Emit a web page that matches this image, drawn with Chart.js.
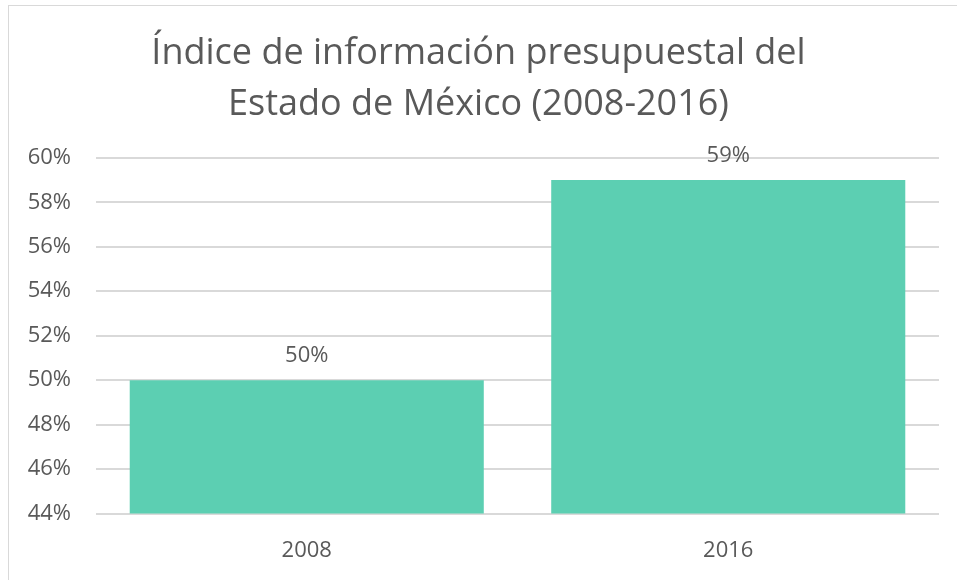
<!DOCTYPE html>
<html>
<head>
<meta charset="utf-8">
<script src="https://cdn.jsdelivr.net/npm/chart.js@4"></script>
<style>
    html, body { margin: 0; padding: 0; background: #fff; overflow: hidden; }
    #frame {
        position: absolute; left: 8px; top: 5px; width: 1000px; height: 700px;
        border-left: 1px solid #d9d9d9; border-top: 1px solid #d9d9d9;
    }
    #wrap { position: absolute; left: 0; top: 0; width: 957px; height: 580px; }
</style>
</head>
<body>
<div id="frame"></div>
<div id="wrap"><canvas id="chart"></canvas></div>
<script>
const categories = ['2008', '2016'];
const values = [0.50, 0.59];
const yTicks = [0.44, 0.46, 0.48, 0.50, 0.52, 0.54, 0.56, 0.58, 0.60];
const titleLines = ['Índice de información presupuestal del', 'Estado de México (2008-2016)'];

const textColor = '#595959';
const fontFamily = "'Open Sans', 'Noto Sans', sans-serif";

// Value labels above each bar
const barLabels = {
    id: 'barLabels',
    afterDatasetsDraw(chart) {
        const ctx = chart.ctx;
        const meta = chart.getDatasetMeta(0);
        ctx.save();
        ctx.font = `22px ${fontFamily}`;
        ctx.fillStyle = textColor;
        ctx.textAlign = 'center';
        ctx.textBaseline = 'alphabetic';
        meta.data.forEach((bar, i) => {
            ctx.fillText(Math.round(values[i] * 100) + '%', bar.x, bar.y - 18);
        });
        ctx.restore();
    }
};

new Chart(document.getElementById('chart'), {
    type: 'bar',
    data: {
        labels: categories,
        datasets: [{
            data: values,
            backgroundColor: '#5ccfb2',
            categoryPercentage: 0.84,
            barPercentage: 1.0
        }]
    },
    options: {
        responsive: true,
        maintainAspectRatio: false,
        animation: false,
        layout: { padding: { left: 18, right: 18, top: 29, bottom: 0 } },
        plugins: {
            legend: { display: false },
            tooltip: { enabled: false },
            title: {
                display: true,
                text: titleLines,
                color: textColor,
                font: { family: fontFamily, size: 36, weight: 'normal', lineHeight: 1.4 },
                padding: { top: 0, bottom: 28 }
            }
        },
        scales: {
            x: {
                grid: { display: false },
                border: { display: false },
                ticks: { color: textColor, font: { family: fontFamily, size: 22 }, padding: 16 }
            },
            y: {
                min: 0.44,
                max: 0.60,
                afterBuildTicks(axis) { axis.ticks = yTicks.map(v => ({ value: v })); },
                afterFit(axis) { axis.width = 78; },
                grid: { color: '#d9d9d9', lineWidth: 2, drawTicks: false },
                border: { display: false },
                ticks: {
                    color: textColor,
                    font: { family: fontFamily, size: 22 },
                    padding: 25,
                    callback: v => Math.round(v * 100) + '%'
                }
            }
        }
    },
    plugins: [barLabels]
});
</script>
</body>
</html>
